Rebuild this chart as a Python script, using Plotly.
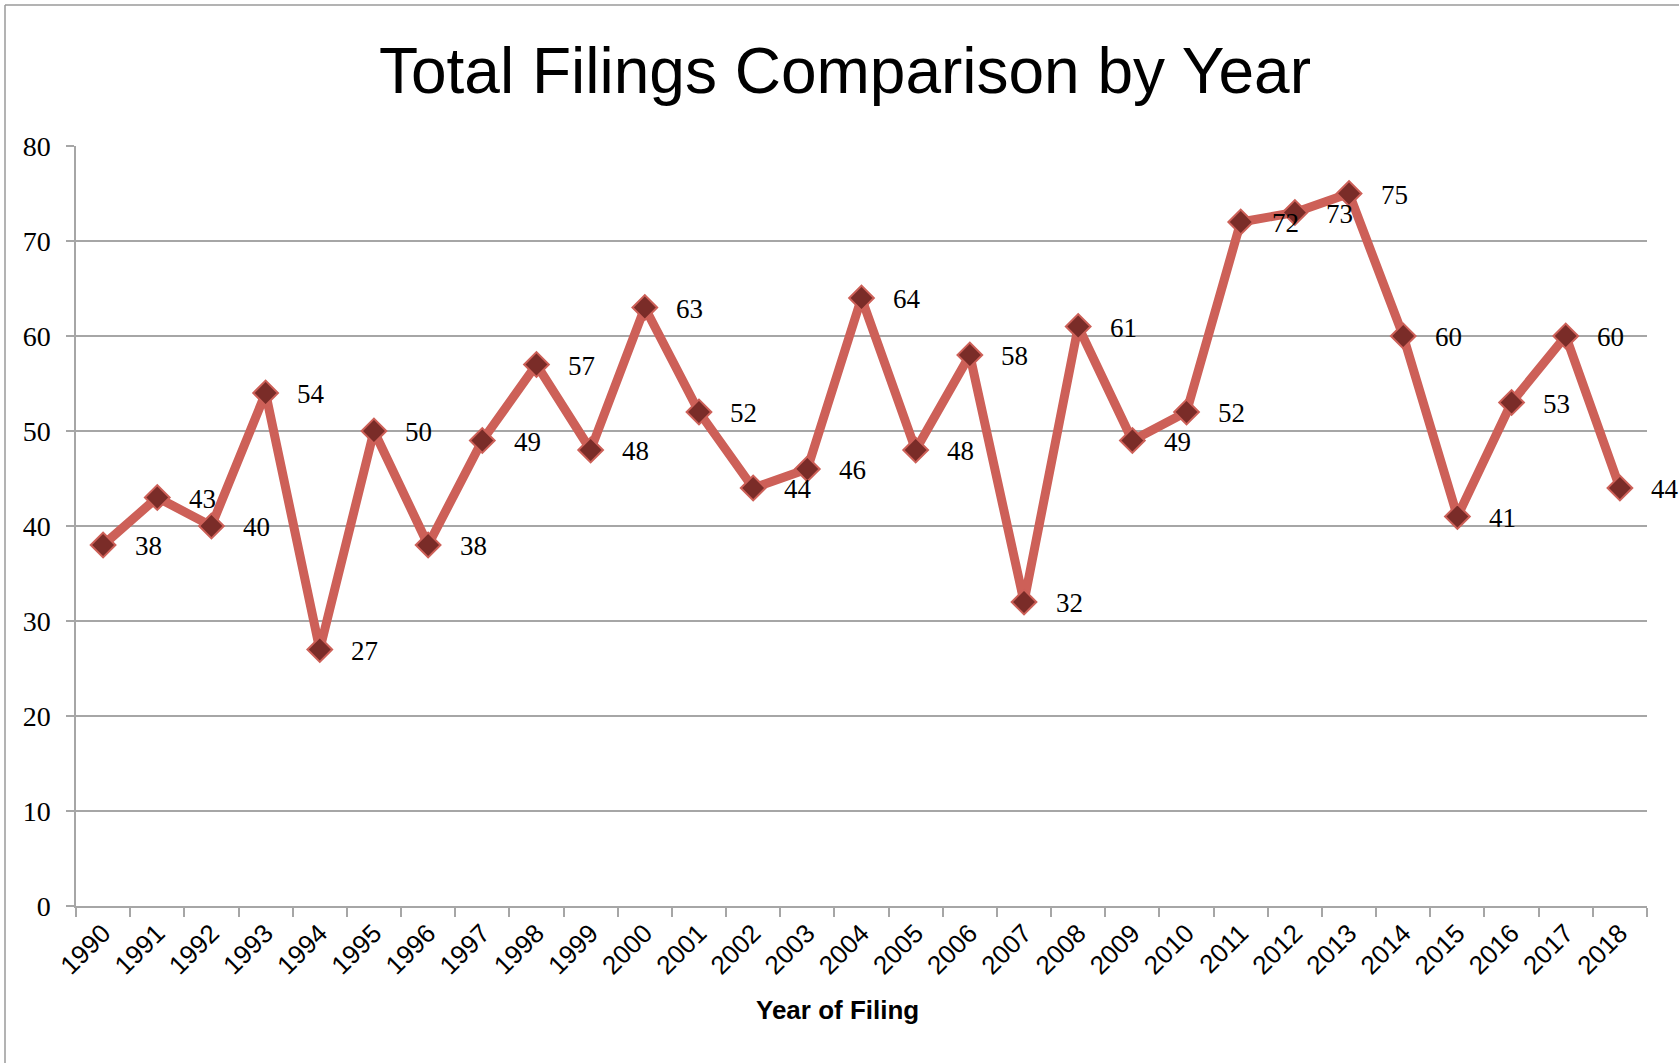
import plotly.graph_objects as go

# Yearly filing totals
years = [str(y) for y in range(1990, 2019)]
filings = [38, 43, 40, 54, 27, 50, 38, 49, 57, 48, 63, 52, 44, 46, 64,
           48, 58, 32, 61, 49, 52, 72, 73, 75, 60, 41, 53, 60, 44]
y_ticks = [0, 10, 20, 30, 40, 50, 60, 70, 80]

W, H = 1679, 1063
L, R, T, B = 76, 32, 146, 157
plot_w = W - L - R
plot_h = H - T - B

grid_grey = "#a6a6a6"
line_red = "rgb(205,96,88)"
marker_dark = "rgb(122,44,40)"

fig = go.Figure()
fig.add_trace(go.Scatter(
    x=years, y=filings, mode="lines+markers",
    line=dict(color=line_red, width=9),
    marker=dict(symbol="diamond", size=19, color=marker_dark,
                line=dict(color=line_red, width=2)),
    cliponaxis=False, hoverinfo="x+y", showlegend=False,
))

# value labels to the right of each point (category index positions)
annotations = []
for i, v in enumerate(filings):
    annotations.append(dict(
        x=i, y=v, xref="x", yref="y", text=str(v), showarrow=False,
        xanchor="center", yanchor="middle", xshift=45, yshift=-1,
        font=dict(family="Liberation Serif, Times New Roman, serif",
                  size=27, color="black"),
    ))

# axis title
annotations.append(dict(
    x=(837 - L) / plot_w, y=-(1010 - (H - B)) / plot_h,
    xref="paper", yref="paper", text="<b>Year of Filing</b>",
    showarrow=False, xanchor="center", yanchor="middle",
    font=dict(family="Liberation Sans, Arial, sans-serif", size=26, color="black"),
))

# outer frame (left and top edges)
fx = (5 - L) / plot_w
fy = ((H - B) - 5) / plot_h
shapes = [
    dict(type="line", xref="paper", yref="paper", x0=fx, x1=fx, y0=-1, y1=fy,
         line=dict(color="#9a9a9a", width=1.5)),
    dict(type="line", xref="paper", yref="paper", x0=fx, x1=2, y0=fy, y1=fy,
         line=dict(color="#9a9a9a", width=1.5)),
]

fig.update_layout(
    width=W, height=H,
    margin=dict(l=L, r=R, t=T, b=B, autoexpand=False),
    paper_bgcolor="white", plot_bgcolor="white",
    title=dict(text="Total Filings Comparison by Year",
               x=(845) / W, xanchor="center",
               y=1 - 71 / H, yanchor="middle", yref="container",
               font=dict(family="Liberation Sans, Arial, sans-serif",
                         size=64, color="black")),
    annotations=annotations,
    shapes=shapes,
    xaxis=dict(
        type="category", tickson="boundaries", ticks="outside", ticklen=9,
        tickcolor=grid_grey, tickwidth=1.5,
        showline=True, linecolor=grid_grey, linewidth=1.5,
        showgrid=False, zeroline=False, tickangle=-45,
        tickfont=dict(family="Liberation Sans, Arial, sans-serif", size=26, color="black"),
        range=[-0.5, len(years) - 0.5],
    ),
    yaxis=dict(
        range=[0, 80], tickvals=y_ticks, ticktext=[str(t) for t in y_ticks],
        ticks="outside", ticklen=8, tickcolor=grid_grey, tickwidth=1.5,
        showline=True, linecolor=grid_grey, linewidth=1.5,
        showgrid=True, gridcolor=grid_grey, gridwidth=1.5, zeroline=False,
        ticklabelstandoff=10,
        tickfont=dict(family="Liberation Serif, Times New Roman, serif", size=28, color="black"),
    ),
)

fig.write_html("out.html")
